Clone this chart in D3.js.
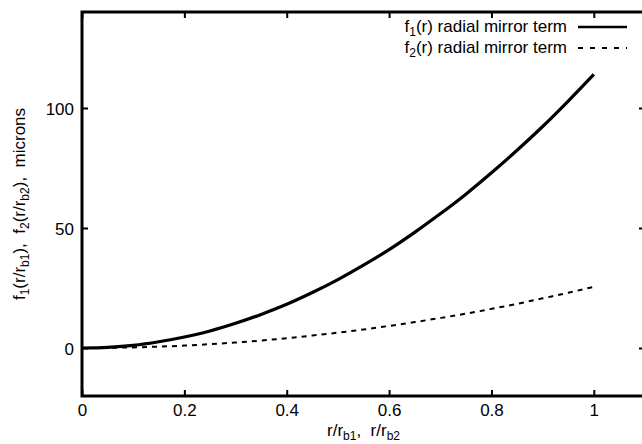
<!DOCTYPE html>
<html>
<head>
<meta charset="utf-8">
<script src="https://cdn.jsdelivr.net/npm/d3@7"></script>
<style>
  html, body { margin: 0; padding: 0; background: #fff; }
  svg { display: block; }
  text { font-family: "Liberation Sans", Arial, Helvetica, sans-serif; fill: #000; white-space: pre; }
</style>
</head>
<body>
<svg id="chart" width="642" height="444"></svg>
<script>
// ---- data ----
const rValues = [0, 0.05, 0.1, 0.15, 0.2, 0.25, 0.3, 0.35, 0.4, 0.45, 0.5,
                 0.55, 0.6, 0.65, 0.7, 0.75, 0.8, 0.85, 0.9, 0.95, 1.0];
const f1Values = [0, 0.3, 1.1, 2.6, 4.6, 7.1, 10.3, 14.0, 18.2, 23.1, 28.5,
                  34.5, 41.0, 48.2, 55.9, 64.1, 73.0, 82.4, 92.3, 102.9, 114.0];
const f2Values = [0, 0.06, 0.26, 0.57, 1.0, 1.6, 2.3, 3.1, 4.1, 5.2, 6.4,
                  7.7, 9.2, 10.8, 12.5, 14.3, 16.3, 18.4, 20.7, 23.0, 25.5];
const seriesNames = ["f1", "f2"];
const xTicks = [0, 0.2, 0.4, 0.6, 0.8, 1];
const xTickLabels = ["0", "0.2", "0.4", "0.6", "0.8", "1"];
const yTicks = [0, 50, 100];
const yTickLabels = ["0", "50", "100"];
const xDomain = [0, 1.1];
const yDomain = [-20, 140];

// ---- layout ----
const svg = d3.select("#chart");
const L = 82, R = 645, T = 12, B = 396;
const x = d3.scaleLinear().domain(xDomain).range([L, R]);
const y = d3.scaleLinear().domain(yDomain).range([B, T]);
const FS = 17;

// axes (ticks inward, gnuplot-style mirrored)
const gx = svg.append("g").attr("transform", `translate(0,${B})`)
  .call(d3.axisBottom(x).tickValues(xTicks)
        .tickFormat((d, i) => xTickLabels[i]).tickSizeInner(-6).tickSizeOuter(0).tickPadding(8));
gx.selectAll("text").attr("y", 20).attr("dy", null).style("font-size", FS + "px");

const gx2 = svg.append("g").attr("transform", `translate(0,${T})`)
  .call(d3.axisTop(x).tickValues(xTicks).tickFormat("").tickSizeInner(-6).tickSizeOuter(0));

const gy = svg.append("g").attr("transform", `translate(${L},0)`)
  .call(d3.axisLeft(y).tickValues(yTicks)
        .tickFormat((d, i) => yTickLabels[i]).tickSizeInner(-6).tickSizeOuter(0).tickPadding(8));
gy.selectAll("text").attr("dy", "0.36em").style("font-size", FS + "px");

const gy2 = svg.append("g").attr("transform", `translate(${R},0)`)
  .call(d3.axisRight(y).tickValues(yTicks).tickFormat("").tickSizeInner(-6).tickSizeOuter(0));

[gx, gx2, gy, gy2].forEach(g => {
  g.select(".domain").remove();
  g.selectAll(".tick line").attr("stroke", "#000").attr("stroke-width", 2);
  g.selectAll("text").attr("fill", "#000").style("font-family", '"Liberation Sans", Arial, Helvetica, sans-serif');
});

// border
svg.append("rect").attr("x", L).attr("y", T).attr("width", R - L).attr("height", B - T)
  .attr("fill", "none").attr("stroke", "#000").attr("stroke-width", 3);

// curves
const line = d3.line().x(d => x(d[0])).y(d => y(d[1])).curve(d3.curveMonotoneX);
const f1Data = rValues.map((r, i) => [r, f1Values[i]]);
const f2Data = rValues.map((r, i) => [r, f2Values[i]]);

svg.append("path").datum(f1Data).attr("d", line)
  .attr("fill", "none").attr("stroke", "#000").attr("stroke-width", 3.2);
svg.append("path").datum(f2Data).attr("d", line)
  .attr("fill", "none").attr("stroke", "#000").attr("stroke-width", 2)
  .attr("stroke-dasharray", "5,5");

// legend
function subText(g, parts, attrs) {
  const t = g.append("text");
  Object.entries(attrs).forEach(([k, v]) => t.attr(k, v));
  t.style("font-size", FS + "px").attr("xml:space", "preserve");
  parts.forEach(p => {
    const ts = t.append("tspan").text(p.t);
    if (p.sub) ts.attr("dy", 4).style("font-size", "12px");
    else if (p.after) ts.attr("dy", -4);
  });
  return t;
}
const leg = svg.append("g");
const legRows = [
  { name: seriesNames[0], sub: "1", y: 32, dash: null, w: 2.6 },
  { name: seriesNames[1], sub: "2", y: 53, dash: "5,7", w: 2 }
];
legRows.forEach(r => {
  subText(leg, [{ t: "f" }, { t: r.sub, sub: true }, { t: "(r) radial mirror term", after: true }],
          { x: 567, y: r.y, "text-anchor": "end" });
  leg.append("line").attr("x1", 578).attr("x2", 627).attr("y1", r.y - 5).attr("y2", r.y - 5)
    .attr("stroke", "#000").attr("stroke-width", r.w)
    .attr("stroke-dasharray", r.dash);
});

// x label
subText(svg, [{ t: "r/r" }, { t: "b1", sub: true }, { t: ",  r/r", after: true }, { t: "b2", sub: true }],
        { x: (L + R) / 2, y: 436, "text-anchor": "middle" });

// y label
const yl = svg.append("g").attr("transform", `translate(25,${(T + B) / 2}) rotate(-90)`);
subText(yl, [
  { t: "f" }, { t: "1", sub: true }, { t: "(r/r", after: true }, { t: "b1", sub: true },
  { t: "),  f", after: true }, { t: "2", sub: true }, { t: "(r/r", after: true }, { t: "b2", sub: true },
  { t: "),  microns", after: true }
], { x: 0, y: 0, "text-anchor": "middle" });
</script>
</body>
</html>
